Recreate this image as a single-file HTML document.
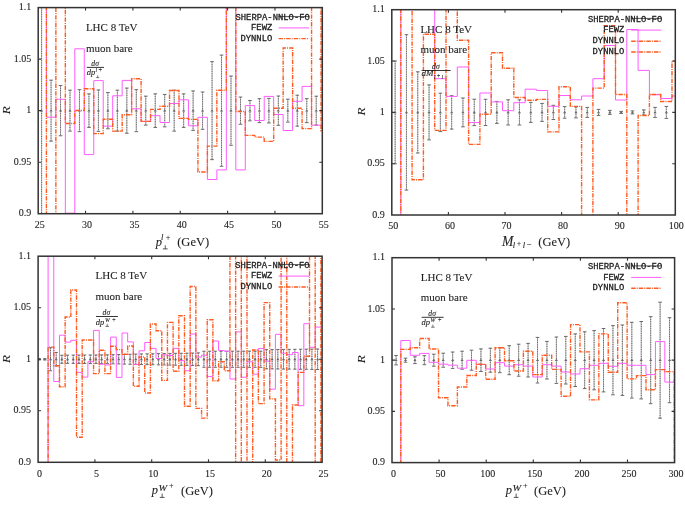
<!DOCTYPE html>
<html><head><meta charset="utf-8"><title>R ratio plots</title>
<style>
html,body{margin:0;padding:0;background:#fff}
body{width:685px;height:506px;overflow:hidden;position:relative}
svg{position:absolute;left:0;top:0;display:block;filter:blur(0.3px);}
.s{font-family:"Liberation Serif",serif;fill:#1e1e1e;stroke:#1e1e1e;stroke-width:0.1px}
.m{font-family:"Liberation Mono",monospace;fill:#1e1e1e;stroke:#1e1e1e;stroke-width:0.3px}
</style></head><body>
<svg width="685" height="506" viewBox="0 0 685 506">
<rect x="0" y="0" width="685" height="506" fill="#fff"/>
<defs>
<clipPath id="ca"><rect x="38.2" y="7.6" width="284.1" height="206.1"/></clipPath>
<clipPath id="cb"><rect x="391.8" y="9.7" width="283.5" height="205.3"/></clipPath>
<clipPath id="cc"><rect x="38.1" y="256.2" width="284" height="206.1"/></clipPath>
<clipPath id="cd"><rect x="392" y="257.7" width="282.6" height="204.9"/></clipPath>
</defs>
<g clip-path="url(#ca)">
<path d="M41.6,2.6V218.7M51.07,80.15V141.15M60.54,85.55V135.75M70.01,90.15V131.15M79.48,89.65V131.65M88.95,93.85V127.45M98.42,89.95V131.35M107.89,92.55V128.75M117.36,90.15V131.15M126.83,88.05V133.25M136.3,89.65V131.65M145.77,96.15V125.15M155.24,93.85V127.45M164.71,94.45V126.85M174.18,90.15V131.15M183.65,93.9V127.4M193.12,90.95V130.35M202.59,92V129.3M212.06,61.65V159.65M221.53,55.05V166.25M231,76.05V145.25M240.47,97.05V124.25M249.94,100.5V120.8M259.41,98.7V122.6M268.88,98.35V122.95M278.35,96V125.3M287.82,99.2V122.1M297.29,95.2V126.1M306.76,98.65V122.65M316.23,96.2V125.1" fill="none" stroke="#a8a8a8" stroke-width="0.9"/>
<path d="M41.6,2.6V218.7M51.07,80.15V141.15M60.54,85.55V135.75M70.01,90.15V131.15M79.48,89.65V131.65M88.95,93.85V127.45M98.42,89.95V131.35M107.89,92.55V128.75M117.36,90.15V131.15M126.83,88.05V133.25M136.3,89.65V131.65M145.77,96.15V125.15M155.24,93.85V127.45M164.71,94.45V126.85M174.18,90.15V131.15M183.65,93.9V127.4M193.12,90.95V130.35M202.59,92V129.3M212.06,61.65V159.65M221.53,55.05V166.25M231,76.05V145.25M240.47,97.05V124.25M249.94,100.5V120.8M259.41,98.7V122.6M268.88,98.35V122.95M278.35,96V125.3M287.82,99.2V122.1M297.29,95.2V126.1M306.76,98.65V122.65M316.23,96.2V125.1" fill="none" stroke="#666" stroke-width="1" stroke-dasharray="1 1.3"/>
<path d="M49.27,80.15h3.6M49.27,141.15h3.6M58.74,85.55h3.6M58.74,135.75h3.6M68.21,90.15h3.6M68.21,131.15h3.6M77.68,89.65h3.6M77.68,131.65h3.6M87.15,93.85h3.6M87.15,127.45h3.6M96.62,89.95h3.6M96.62,131.35h3.6M106.09,92.55h3.6M106.09,128.75h3.6M115.56,90.15h3.6M115.56,131.15h3.6M125.03,88.05h3.6M125.03,133.25h3.6M134.5,89.65h3.6M134.5,131.65h3.6M143.97,96.15h3.6M143.97,125.15h3.6M153.44,93.85h3.6M153.44,127.45h3.6M162.91,94.45h3.6M162.91,126.85h3.6M172.38,90.15h3.6M172.38,131.15h3.6M181.85,93.9h3.6M181.85,127.4h3.6M191.32,90.95h3.6M191.32,130.35h3.6M200.79,92h3.6M200.79,129.3h3.6M210.26,61.65h3.6M210.26,159.65h3.6M219.73,55.05h3.6M219.73,166.25h3.6M229.2,76.05h3.6M229.2,145.25h3.6M238.67,97.05h3.6M238.67,124.25h3.6M248.14,100.5h3.6M248.14,120.8h3.6M257.61,98.7h3.6M257.61,122.6h3.6M267.08,98.35h3.6M267.08,122.95h3.6M276.55,96h3.6M276.55,125.3h3.6M286.02,99.2h3.6M286.02,122.1h3.6M295.49,95.2h3.6M295.49,126.1h3.6M304.96,98.65h3.6M304.96,122.65h3.6M314.43,96.2h3.6M314.43,125.1h3.6" fill="none" stroke="#6a6a6a" stroke-width="1"/>
<path d="M41.6,109.15l1.6,2.4h-3.2zM51.07,109.15l1.6,2.4h-3.2zM60.54,109.15l1.6,2.4h-3.2zM70.01,109.15l1.6,2.4h-3.2zM79.48,109.15l1.6,2.4h-3.2zM88.95,109.15l1.6,2.4h-3.2zM98.42,109.15l1.6,2.4h-3.2zM107.89,109.15l1.6,2.4h-3.2zM117.36,109.15l1.6,2.4h-3.2zM126.83,109.15l1.6,2.4h-3.2zM136.3,109.15l1.6,2.4h-3.2zM145.77,109.15l1.6,2.4h-3.2zM155.24,109.15l1.6,2.4h-3.2zM164.71,109.15l1.6,2.4h-3.2zM174.18,109.15l1.6,2.4h-3.2zM183.65,109.15l1.6,2.4h-3.2zM193.12,109.15l1.6,2.4h-3.2zM202.59,109.15l1.6,2.4h-3.2zM212.06,109.15l1.6,2.4h-3.2zM221.53,109.15l1.6,2.4h-3.2zM231,109.15l1.6,2.4h-3.2zM240.47,109.15l1.6,2.4h-3.2zM249.94,109.15l1.6,2.4h-3.2zM259.41,109.15l1.6,2.4h-3.2zM268.88,109.15l1.6,2.4h-3.2zM278.35,109.15l1.6,2.4h-3.2zM287.82,109.15l1.6,2.4h-3.2zM297.29,109.15l1.6,2.4h-3.2zM306.76,109.15l1.6,2.4h-3.2zM316.23,109.15l1.6,2.4h-3.2z" fill="#6a6a6a"/>
<path d="M36.93,-22.4H46.4V117.2H55.87V99.3H65.34V213.2H74.81V48.8H84.28V154.6H93.75V80.6H103.22V126.2H112.69V95.8H122.16V80.4H131.63V108.8H141.1V121.4H150.57V115.7H160.04V122.5H169.51V103.5H178.98V99.8H188.45V125.8H197.92V117.3H207.39V179.5H216.86V169.9H226.33V-22.4H235.8V169.9H245.27V105.6H254.74V120.5H264.21V96.4H273.68V114.5H283.15V130.5H292.62V101.3H302.09V86.4H311.56V125.2H321.03V125H330.5" fill="none" stroke="#ff5cff" stroke-width="1.0"/>
<path d="M36.93,-22.4H46.4V243.7H55.87V-22.4H65.34V123.5H74.81V110.5H84.28V88.8H93.75V133.6H103.22V119.3H112.69V131.1H122.16V114.7H131.63V78.8H141.1V121.4H150.57V109.4H160.04V106.3H169.51V90.5H178.98V118.4H188.45V119.4H197.92V172H207.39V146.1H216.86V90.2H226.33V-22.4H235.8V111.5H245.27V135.4H254.74V137.1H264.21V141.4H273.68V108.3H283.15V48H292.62V108.3H302.09V128.6H311.56V-22.4H321.03V131H330.5" fill="none" stroke="#ff5a20" stroke-width="1.4" stroke-dasharray="4.4 1.1 1 1.1"/>
</g>
<rect x="38.2" y="7.6" width="284.1" height="206.1" fill="none" stroke="#333" stroke-width="1.5"/>
<path d="M38.2,59.13h3M322.3,59.13h-3M38.2,110.65h3M322.3,110.65h-3M38.2,162.18h3M322.3,162.18h-3M85.55,213.7v-3M85.55,7.6v3M132.9,213.7v-3M132.9,7.6v3M180.25,213.7v-3M180.25,7.6v3M227.6,213.7v-3M227.6,7.6v3M274.95,213.7v-3M274.95,7.6v3" fill="none" stroke="#333" stroke-width="1.1"/>
<g clip-path="url(#cb)">
<path d="M395.15,61V163.8M406.45,34.7V190.1M417.75,71.8V153M429.05,84.9V139.9M440.35,93.2V131.6M451.65,95.7V129.1M462.95,98V126.8M474.25,99.2V125.6M485.55,99.3V125.5M496.85,101.4V123.4M508.15,99.8V125M519.45,99.8V125M530.75,102.4V122.4M542.05,103.4V121.4M553.35,105.3V119.5M564.65,106.6V118.2M575.95,106.9V117.9M587.25,107.4V117.4M598.55,109.4V115.4M609.85,110.4V114.4M632.45,110.9V113.9M643.75,109.9V114.9M655.05,107.4V117.4M666.35,106.4V118.4" fill="none" stroke="#a8a8a8" stroke-width="0.9"/>
<path d="M395.15,61V163.8M406.45,34.7V190.1M417.75,71.8V153M429.05,84.9V139.9M440.35,93.2V131.6M451.65,95.7V129.1M462.95,98V126.8M474.25,99.2V125.6M485.55,99.3V125.5M496.85,101.4V123.4M508.15,99.8V125M519.45,99.8V125M530.75,102.4V122.4M542.05,103.4V121.4M553.35,105.3V119.5M564.65,106.6V118.2M575.95,106.9V117.9M587.25,107.4V117.4M598.55,109.4V115.4M609.85,110.4V114.4M632.45,110.9V113.9M643.75,109.9V114.9M655.05,107.4V117.4M666.35,106.4V118.4" fill="none" stroke="#666" stroke-width="1" stroke-dasharray="1 1.3"/>
<path d="M393.35,61h3.6M393.35,163.8h3.6M404.65,34.7h3.6M404.65,190.1h3.6M415.95,71.8h3.6M415.95,153h3.6M427.25,84.9h3.6M427.25,139.9h3.6M438.55,93.2h3.6M438.55,131.6h3.6M449.85,95.7h3.6M449.85,129.1h3.6M461.15,98h3.6M461.15,126.8h3.6M472.45,99.2h3.6M472.45,125.6h3.6M483.75,99.3h3.6M483.75,125.5h3.6M495.05,101.4h3.6M495.05,123.4h3.6M506.35,99.8h3.6M506.35,125h3.6M517.65,99.8h3.6M517.65,125h3.6M528.95,102.4h3.6M528.95,122.4h3.6M540.25,103.4h3.6M540.25,121.4h3.6M551.55,105.3h3.6M551.55,119.5h3.6M562.85,106.6h3.6M562.85,118.2h3.6M574.15,106.9h3.6M574.15,117.9h3.6M585.45,107.4h3.6M585.45,117.4h3.6M596.75,109.4h3.6M596.75,115.4h3.6M608.05,110.4h3.6M608.05,114.4h3.6M619.35,111.4h3.6M619.35,113.4h3.6M630.65,110.9h3.6M630.65,113.9h3.6M641.95,109.9h3.6M641.95,114.9h3.6M653.25,107.4h3.6M653.25,117.4h3.6M664.55,106.4h3.6M664.55,118.4h3.6" fill="none" stroke="#6a6a6a" stroke-width="1"/>
<path d="M395.15,110.9l1.6,2.4h-3.2zM406.45,110.9l1.6,2.4h-3.2zM417.75,110.9l1.6,2.4h-3.2zM429.05,110.9l1.6,2.4h-3.2zM440.35,110.9l1.6,2.4h-3.2zM451.65,110.9l1.6,2.4h-3.2zM462.95,110.9l1.6,2.4h-3.2zM474.25,110.9l1.6,2.4h-3.2zM485.55,110.9l1.6,2.4h-3.2zM496.85,110.9l1.6,2.4h-3.2zM508.15,110.9l1.6,2.4h-3.2zM519.45,110.9l1.6,2.4h-3.2zM530.75,110.9l1.6,2.4h-3.2zM542.05,110.9l1.6,2.4h-3.2zM553.35,110.9l1.6,2.4h-3.2zM564.65,110.9l1.6,2.4h-3.2zM575.95,110.9l1.6,2.4h-3.2zM587.25,110.9l1.6,2.4h-3.2zM598.55,110.9l1.6,2.4h-3.2zM609.85,110.9l1.6,2.4h-3.2zM621.15,110.9l1.6,2.4h-3.2zM632.45,110.9l1.6,2.4h-3.2zM643.75,110.9l1.6,2.4h-3.2zM655.05,110.9l1.6,2.4h-3.2zM666.35,110.9l1.6,2.4h-3.2z" fill="#6a6a6a"/>
<path d="M389.5,245H400.8V-20.3H412.1V-20.3H423.4V-20.3H434.7V78.7H446V96.4H457.3V67H468.6V122.6H479.9V93H491.2V101.9H502.5V110.7H513.8V102.7H525.1V89.2H536.4V90.5H547.7V106.3H559V95.5H570.3V99.8H581.6V96H592.9V78.7H604.2V45.5H615.5V100H626.8V29.5H638.1V70.4H649.4V94.7H660.7V98.5H672V96H683.3" fill="none" stroke="#ff5cff" stroke-width="1.0"/>
<path d="M389.5,245H400.8V-20.3H412.1V179.8H423.4V34.2H434.7V130.4H446V-20.3H457.3V40.3H468.6V144.4H479.9V114.2H491.2V52.7H502.5V68.3H513.8V97.5H525.1V100.2H536.4V99.4H547.7V131.9H559V86.8H570.3V106.4H581.6V245H592.9V88.1H604.2V25.8H615.5V94.5H626.8V245H638.1V115.5H649.4V94.5H660.7V101.5H672V61.1H683.3" fill="none" stroke="#ff5a20" stroke-width="1.4" stroke-dasharray="4.4 1.1 1 1.1"/>
</g>
<rect x="391.8" y="9.7" width="283.5" height="205.3" fill="none" stroke="#333" stroke-width="1.5"/>
<path d="M391.8,61.03h3M675.3,61.03h-3M391.8,112.35h3M675.3,112.35h-3M391.8,163.68h3M675.3,163.68h-3M448.4,215v-3M448.4,9.7v3M505,215v-3M505,9.7v3M561.6,215v-3M561.6,9.7v3M618.2,215v-3M618.2,9.7v3" fill="none" stroke="#333" stroke-width="1.1"/>
<g clip-path="url(#cc)">
<path d="M50.5,347.75V370.75M56.18,352.45V366.05M61.86,355.25V363.25M67.55,355.15V363.35M73.23,355.11V363.39M78.91,355.06V363.44M84.59,355.02V363.48M90.28,354.98V363.52M95.96,354.94V363.56M101.64,354.89V363.61M107.33,354.85V363.65M113.01,354.7V363.8M118.69,354.55V363.95M124.38,354.4V364.1M130.06,354.25V364.25M135.74,354.1V364.4M141.42,353.95V364.55M147.11,353.85V364.65M152.79,353.75V364.75M158.47,353.65V364.85M164.16,353.55V364.95M169.84,353.45V365.05M175.52,353.35V365.15M181.2,353.25V365.25M186.89,353.15V365.35M192.57,353.05V365.45M198.25,352.85V365.65M203.94,351.25V367.25M209.62,351.24V367.26M215.3,351.23V367.27M220.99,351.22V367.28M226.67,351.21V367.29M232.35,351.2V367.3M238.03,351.19V367.31M243.72,351.18V367.32M249.4,351.17V367.33M255.08,351.16V367.34M260.77,351.15V367.35M266.45,349.65V368.85M272.13,349.58V368.92M277.82,349.51V368.99M283.5,349.44V369.06M289.18,349.37V369.13M294.86,349.3V369.2M300.55,349.23V369.27M306.23,349.16V369.34M311.91,349.09V369.41M317.6,349.02V369.48" fill="none" stroke="#a8a8a8" stroke-width="0.9"/>
<path d="M50.5,347.75V370.75M56.18,352.45V366.05M61.86,355.25V363.25M67.55,355.15V363.35M73.23,355.11V363.39M78.91,355.06V363.44M84.59,355.02V363.48M90.28,354.98V363.52M95.96,354.94V363.56M101.64,354.89V363.61M107.33,354.85V363.65M113.01,354.7V363.8M118.69,354.55V363.95M124.38,354.4V364.1M130.06,354.25V364.25M135.74,354.1V364.4M141.42,353.95V364.55M147.11,353.85V364.65M152.79,353.75V364.75M158.47,353.65V364.85M164.16,353.55V364.95M169.84,353.45V365.05M175.52,353.35V365.15M181.2,353.25V365.25M186.89,353.15V365.35M192.57,353.05V365.45M198.25,352.85V365.65M203.94,351.25V367.25M209.62,351.24V367.26M215.3,351.23V367.27M220.99,351.22V367.28M226.67,351.21V367.29M232.35,351.2V367.3M238.03,351.19V367.31M243.72,351.18V367.32M249.4,351.17V367.33M255.08,351.16V367.34M260.77,351.15V367.35M266.45,349.65V368.85M272.13,349.58V368.92M277.82,349.51V368.99M283.5,349.44V369.06M289.18,349.37V369.13M294.86,349.3V369.2M300.55,349.23V369.27M306.23,349.16V369.34M311.91,349.09V369.41M317.6,349.02V369.48" fill="none" stroke="#666" stroke-width="1" stroke-dasharray="1 1.3"/>
<path d="M37.53,358.65h3.2M37.53,359.85h3.2M43.21,358.65h3.2M43.21,359.85h3.2M48.9,347.75h3.2M48.9,370.75h3.2M54.58,352.45h3.2M54.58,366.05h3.2M60.26,355.25h3.2M60.26,363.25h3.2M65.95,355.15h3.2M65.95,363.35h3.2M71.63,355.11h3.2M71.63,363.39h3.2M77.31,355.06h3.2M77.31,363.44h3.2M82.99,355.02h3.2M82.99,363.48h3.2M88.68,354.98h3.2M88.68,363.52h3.2M94.36,354.94h3.2M94.36,363.56h3.2M100.04,354.89h3.2M100.04,363.61h3.2M105.73,354.85h3.2M105.73,363.65h3.2M111.41,354.7h3.2M111.41,363.8h3.2M117.09,354.55h3.2M117.09,363.95h3.2M122.78,354.4h3.2M122.78,364.1h3.2M128.46,354.25h3.2M128.46,364.25h3.2M134.14,354.1h3.2M134.14,364.4h3.2M139.82,353.95h3.2M139.82,364.55h3.2M145.51,353.85h3.2M145.51,364.65h3.2M151.19,353.75h3.2M151.19,364.75h3.2M156.87,353.65h3.2M156.87,364.85h3.2M162.56,353.55h3.2M162.56,364.95h3.2M168.24,353.45h3.2M168.24,365.05h3.2M173.92,353.35h3.2M173.92,365.15h3.2M179.6,353.25h3.2M179.6,365.25h3.2M185.29,353.15h3.2M185.29,365.35h3.2M190.97,353.05h3.2M190.97,365.45h3.2M196.65,352.85h3.2M196.65,365.65h3.2M202.34,351.25h3.2M202.34,367.25h3.2M208.02,351.24h3.2M208.02,367.26h3.2M213.7,351.23h3.2M213.7,367.27h3.2M219.39,351.22h3.2M219.39,367.28h3.2M225.07,351.21h3.2M225.07,367.29h3.2M230.75,351.2h3.2M230.75,367.3h3.2M236.44,351.19h3.2M236.44,367.31h3.2M242.12,351.18h3.2M242.12,367.32h3.2M247.8,351.17h3.2M247.8,367.33h3.2M253.48,351.16h3.2M253.48,367.34h3.2M259.17,351.15h3.2M259.17,367.35h3.2M264.85,349.65h3.2M264.85,368.85h3.2M270.53,349.58h3.2M270.53,368.92h3.2M276.22,349.51h3.2M276.22,368.99h3.2M281.9,349.44h3.2M281.9,369.06h3.2M287.58,349.37h3.2M287.58,369.13h3.2M293.26,349.3h3.2M293.26,369.2h3.2M298.95,349.23h3.2M298.95,369.27h3.2M304.63,349.16h3.2M304.63,369.34h3.2M310.31,349.09h3.2M310.31,369.41h3.2M316,349.02h3.2M316,369.48h3.2" fill="none" stroke="#6a6a6a" stroke-width="1"/>
<path d="M39.13,357.75l1.6,2.4h-3.2zM44.81,357.75l1.6,2.4h-3.2zM50.5,357.75l1.6,2.4h-3.2zM56.18,357.75l1.6,2.4h-3.2zM61.86,357.75l1.6,2.4h-3.2zM67.55,357.75l1.6,2.4h-3.2zM73.23,357.75l1.6,2.4h-3.2zM78.91,357.75l1.6,2.4h-3.2zM84.59,357.75l1.6,2.4h-3.2zM90.28,357.75l1.6,2.4h-3.2zM95.96,357.75l1.6,2.4h-3.2zM101.64,357.75l1.6,2.4h-3.2zM107.33,357.75l1.6,2.4h-3.2zM113.01,357.75l1.6,2.4h-3.2zM118.69,357.75l1.6,2.4h-3.2zM124.38,357.75l1.6,2.4h-3.2zM130.06,357.75l1.6,2.4h-3.2zM135.74,357.75l1.6,2.4h-3.2zM141.42,357.75l1.6,2.4h-3.2zM147.11,357.75l1.6,2.4h-3.2zM152.79,357.75l1.6,2.4h-3.2zM158.47,357.75l1.6,2.4h-3.2zM164.16,357.75l1.6,2.4h-3.2zM169.84,357.75l1.6,2.4h-3.2zM175.52,357.75l1.6,2.4h-3.2zM181.2,357.75l1.6,2.4h-3.2zM186.89,357.75l1.6,2.4h-3.2zM192.57,357.75l1.6,2.4h-3.2zM198.25,357.75l1.6,2.4h-3.2zM203.94,357.75l1.6,2.4h-3.2zM209.62,357.75l1.6,2.4h-3.2zM215.3,357.75l1.6,2.4h-3.2zM220.99,357.75l1.6,2.4h-3.2zM226.67,357.75l1.6,2.4h-3.2zM232.35,357.75l1.6,2.4h-3.2zM238.03,357.75l1.6,2.4h-3.2zM243.72,357.75l1.6,2.4h-3.2zM249.4,357.75l1.6,2.4h-3.2zM255.08,357.75l1.6,2.4h-3.2zM260.77,357.75l1.6,2.4h-3.2zM266.45,357.75l1.6,2.4h-3.2zM272.13,357.75l1.6,2.4h-3.2zM277.82,357.75l1.6,2.4h-3.2zM283.5,357.75l1.6,2.4h-3.2zM289.18,357.75l1.6,2.4h-3.2zM294.86,357.75l1.6,2.4h-3.2zM300.55,357.75l1.6,2.4h-3.2zM306.23,357.75l1.6,2.4h-3.2zM311.91,357.75l1.6,2.4h-3.2zM317.6,357.75l1.6,2.4h-3.2z" fill="#6a6a6a"/>
<path d="M36.73,492.3H42.41V492.3H48.1V226.2H53.78V381.5H59.46V335.2H65.14V342.1H70.83V340.3H76.51V372.4H82.19V377.1H87.88V361.7H93.56V330.4H99.24V364.2H104.93V365H110.61V337.1H116.29V377.4H121.97V333H127.66V341.9H133.34V364.4H139.02V350.8H144.71V342.5H150.39V348.4H156.07V358.5H161.76V354.9H167.44V355.5H173.12V348.4H178.8V360.6H184.49V370.8H190.17V334H195.85V357H201.54V355.2H207.22V376.6H212.9V341H218.59V350.5H224.27V351.3H229.95V379H235.63V331.9H241.32V377.2H247V361.8H252.68V374.2H258.37V348.5H264.05V361.2H269.73V389.2H275.42V334.3H281.1V353.2H286.78V354.7H292.46V352.5H298.15V405.7H303.83V323.7H309.51V347.3H315.2V327.1H320.88V327H326.56" fill="none" stroke="#ff5cff" stroke-width="1.0"/>
<path d="M36.73,492.3H42.41V492.3H48.1V347.1H53.78V365.8H59.46V386.8H65.14V317H70.83V290H76.51V437.3H82.19V340H87.88V340H93.56V373.6H99.24V350.2H104.93V373.6H110.61V346.2H116.29V349.6H121.97V354.3H127.66V346H133.34V386.3H139.02V357H144.71V393H150.39V324H156.07V330.8H161.76V380.4H167.44V322.4H173.12V371.3H178.8V315.7H184.49V406.3H190.17V286.5H195.85V408.4H201.54V418.1H207.22V319.8H212.9V380.8H218.59V361.8H224.27V370.7H229.95V226.2H235.63V492.3H241.32V226.2H247V492.3H252.68V350H258.37V403.6H264.05V302.6H269.73V398.9H275.42V460H281.1V226.2H286.78V492.3H292.46V405H298.15V372.4H303.83V356.2H309.51V226.2H315.2V492.3H320.88V226.2H326.56" fill="none" stroke="#ff5a20" stroke-width="1.4" stroke-dasharray="4.4 1.1 1 1.1"/>
</g>
<rect x="38.1" y="256.2" width="284" height="206.1" fill="none" stroke="#333" stroke-width="1.5"/>
<path d="M38.1,307.73h3M322.1,307.73h-3M38.1,359.25h3M322.1,359.25h-3M38.1,410.78h3M322.1,410.78h-3M94.9,462.3v-3M94.9,256.2v3M151.7,462.3v-3M151.7,256.2v3M208.5,462.3v-3M208.5,256.2v3M265.3,462.3v-3M265.3,256.2v3" fill="none" stroke="#333" stroke-width="1.1"/>
<g clip-path="url(#cd)">
<path d="M396.07,355.5V364.9M405.5,358.2V362.2M414.93,356.8V363.6M424.36,355.7V364.7M433.79,354.2V366.2M443.22,353.2V367.2M452.65,352V368.4M462.08,351.2V369.2M471.51,350.2V370.2M480.94,348.9V371.5M490.37,348.2V372.2M499.8,347.7V372.7M509.23,345.7V374.7M518.66,344.2V376.2M528.09,343.4V377M537.52,337.4V383M546.95,341.4V379M556.38,337V383.4M565.81,336.4V384M575.24,333.9V386.5M584.67,331.8V388.6M594.1,330.6V389.8M603.53,328.5V391.9M612.96,325.6V394.8M622.39,325V395.4M631.82,322.3V398.1M641.25,321.5V398.9M650.68,316.7V403.7M660.11,302.2V418.2M669.54,317.7V402.7" fill="none" stroke="#a8a8a8" stroke-width="0.9"/>
<path d="M396.07,355.5V364.9M405.5,358.2V362.2M414.93,356.8V363.6M424.36,355.7V364.7M433.79,354.2V366.2M443.22,353.2V367.2M452.65,352V368.4M462.08,351.2V369.2M471.51,350.2V370.2M480.94,348.9V371.5M490.37,348.2V372.2M499.8,347.7V372.7M509.23,345.7V374.7M518.66,344.2V376.2M528.09,343.4V377M537.52,337.4V383M546.95,341.4V379M556.38,337V383.4M565.81,336.4V384M575.24,333.9V386.5M584.67,331.8V388.6M594.1,330.6V389.8M603.53,328.5V391.9M612.96,325.6V394.8M622.39,325V395.4M631.82,322.3V398.1M641.25,321.5V398.9M650.68,316.7V403.7M660.11,302.2V418.2M669.54,317.7V402.7" fill="none" stroke="#666" stroke-width="1" stroke-dasharray="1 1.3"/>
<path d="M394.27,355.5h3.6M394.27,364.9h3.6M403.7,358.2h3.6M403.7,362.2h3.6M413.13,356.8h3.6M413.13,363.6h3.6M422.56,355.7h3.6M422.56,364.7h3.6M431.99,354.2h3.6M431.99,366.2h3.6M441.42,353.2h3.6M441.42,367.2h3.6M450.85,352h3.6M450.85,368.4h3.6M460.28,351.2h3.6M460.28,369.2h3.6M469.71,350.2h3.6M469.71,370.2h3.6M479.14,348.9h3.6M479.14,371.5h3.6M488.57,348.2h3.6M488.57,372.2h3.6M498,347.7h3.6M498,372.7h3.6M507.43,345.7h3.6M507.43,374.7h3.6M516.86,344.2h3.6M516.86,376.2h3.6M526.29,343.4h3.6M526.29,377h3.6M535.72,337.4h3.6M535.72,383h3.6M545.15,341.4h3.6M545.15,379h3.6M554.58,337h3.6M554.58,383.4h3.6M564.01,336.4h3.6M564.01,384h3.6M573.44,333.9h3.6M573.44,386.5h3.6M582.87,331.8h3.6M582.87,388.6h3.6M592.3,330.6h3.6M592.3,389.8h3.6M601.73,328.5h3.6M601.73,391.9h3.6M611.16,325.6h3.6M611.16,394.8h3.6M620.59,325h3.6M620.59,395.4h3.6M630.02,322.3h3.6M630.02,398.1h3.6M639.45,321.5h3.6M639.45,398.9h3.6M648.88,316.7h3.6M648.88,403.7h3.6M658.31,302.2h3.6M658.31,418.2h3.6M667.74,317.7h3.6M667.74,402.7h3.6" fill="none" stroke="#6a6a6a" stroke-width="1"/>
<path d="M396.07,358.7l1.6,2.4h-3.2zM405.5,358.7l1.6,2.4h-3.2zM414.93,358.7l1.6,2.4h-3.2zM424.36,358.7l1.6,2.4h-3.2zM433.79,358.7l1.6,2.4h-3.2zM443.22,358.7l1.6,2.4h-3.2zM452.65,358.7l1.6,2.4h-3.2zM462.08,358.7l1.6,2.4h-3.2zM471.51,358.7l1.6,2.4h-3.2zM480.94,358.7l1.6,2.4h-3.2zM490.37,358.7l1.6,2.4h-3.2zM499.8,358.7l1.6,2.4h-3.2zM509.23,358.7l1.6,2.4h-3.2zM518.66,358.7l1.6,2.4h-3.2zM528.09,358.7l1.6,2.4h-3.2zM537.52,358.7l1.6,2.4h-3.2zM546.95,358.7l1.6,2.4h-3.2zM556.38,358.7l1.6,2.4h-3.2zM565.81,358.7l1.6,2.4h-3.2zM575.24,358.7l1.6,2.4h-3.2zM584.67,358.7l1.6,2.4h-3.2zM594.1,358.7l1.6,2.4h-3.2zM603.53,358.7l1.6,2.4h-3.2zM612.96,358.7l1.6,2.4h-3.2zM622.39,358.7l1.6,2.4h-3.2zM631.82,358.7l1.6,2.4h-3.2zM641.25,358.7l1.6,2.4h-3.2zM650.68,358.7l1.6,2.4h-3.2zM660.11,358.7l1.6,2.4h-3.2zM669.54,358.7l1.6,2.4h-3.2z" fill="#6a6a6a"/>
<path d="M391.37,492.6H400.8V340.5H410.23V355.3H419.66V353.4H429.09V362.3H438.52V364.2H447.95V365.2H457.38V368.2H466.81V360.3H476.24V364.5H485.67V369H495.1V362.7H504.53V366.1H513.96V364.7H523.39V366.1H532.82V377H542.25V364.7H551.68V366.1H561.11V372H570.54V374H579.97V368.7H589.4V365.3H598.83V363.3H608.26V366.3H617.69V363.3H627.12V365.3H636.55V365.3H645.98V374.6H655.41V341.6H664.84V382.1H674.27V382H683.7" fill="none" stroke="#ff5cff" stroke-width="1.0"/>
<path d="M391.37,492.6H400.8V349.4H410.23V347.8H419.66V338.5H429.09V349H438.52V397.8H447.95V405.7H457.38V387H466.81V375.5H476.24V364.2H485.67V379.3H495.1V347.7H504.53V360.8H513.96V371H523.39V351.3H532.82V374.6H542.25V355.2H551.68V369.4H561.11V396.3H570.54V324.6H579.97V351.9H589.4V399.9H598.83V333.9H608.26V372.2H617.69V302.8H627.12V378.9H636.55V375.6H645.98V389.8H655.41V369.6H664.84V371.6H674.27V492.6H683.7" fill="none" stroke="#ff5a20" stroke-width="1.4" stroke-dasharray="4.4 1.1 1 1.1"/>
</g>
<rect x="392" y="257.7" width="282.6" height="204.9" fill="none" stroke="#333" stroke-width="1.5"/>
<path d="M392,308.93h3M674.6,308.93h-3M392,360.15h3M674.6,360.15h-3M392,411.38h3M674.6,411.38h-3M439.1,462.6v-3M439.1,257.7v3M486.2,462.6v-3M486.2,257.7v3M533.3,462.6v-3M533.3,257.7v3M580.4,462.6v-3M580.4,257.7v3M627.5,462.6v-3M627.5,257.7v3" fill="none" stroke="#333" stroke-width="1.1"/>
<path d="M278.6,16.6H309.2" stroke="#555" stroke-width="1"/>
<path d="M278.6,27.9H309.2" stroke="#ff5cff" stroke-width="1.0"/>
<path d="M278.6,38.6H309.2" stroke="#ff5a20" stroke-width="1.4" stroke-dasharray="4.4 1.1 1 1.1"/>
<path d="M631.2,18.4H661.3" stroke="#555" stroke-width="1"/>
<path d="M631.2,30.1H661.3" stroke="#ff5cff" stroke-width="1.0"/>
<path d="M631.2,41.2H661.3" stroke="#ff5a20" stroke-width="1.4" stroke-dasharray="4.4 1.1 1 1.1"/>
<path d="M631.2,52H661.3" stroke="#ff5a20" stroke-width="1.4" stroke-dasharray="4.4 1.1 1 1.1"/>
<path d="M278.6,264.6H309" stroke="#555" stroke-width="1"/>
<path d="M278.6,276.1H309" stroke="#ff5cff" stroke-width="1.0"/>
<path d="M278.6,287H309" stroke="#ff5a20" stroke-width="1.4" stroke-dasharray="4.4 1.1 1 1.1"/>
<path d="M631.2,265.9H661.3" stroke="#555" stroke-width="1"/>
<path d="M631.2,277.4H661.3" stroke="#ff5cff" stroke-width="1.0"/>
<path d="M631.2,288.3H661.3" stroke="#ff5a20" stroke-width="1.4" stroke-dasharray="4.4 1.1 1 1.1"/>
<g opacity="0.999">
<text class="s" x="31.2" y="10.2" font-size="10" text-anchor="end">1.1</text>
<text class="s" x="31.2" y="61.73" font-size="10" text-anchor="end">1.05</text>
<text class="s" x="31.2" y="113.25" font-size="10" text-anchor="end">1</text>
<text class="s" x="31.2" y="164.78" font-size="10" text-anchor="end">0.95</text>
<text class="s" x="31.2" y="216.3" font-size="10" text-anchor="end">0.9</text>
<text class="s" x="39.7" y="228" font-size="10" text-anchor="middle">25</text>
<text class="s" x="87.05" y="228" font-size="10" text-anchor="middle">30</text>
<text class="s" x="134.4" y="228" font-size="10" text-anchor="middle">35</text>
<text class="s" x="181.75" y="228" font-size="10" text-anchor="middle">40</text>
<text class="s" x="229.1" y="228" font-size="10" text-anchor="middle">45</text>
<text class="s" x="276.45" y="228" font-size="10" text-anchor="middle">50</text>
<text class="s" x="323.8" y="228" font-size="10" text-anchor="middle">55</text>
<text class="s" font-style="italic" font-size="13" text-anchor="middle" transform="translate(9.8,110.3) rotate(-90) scale(1,0.86)">R</text>
<text class="s" x="384.8" y="12.3" font-size="10" text-anchor="end">1.1</text>
<text class="s" x="384.8" y="63.63" font-size="10" text-anchor="end">1.05</text>
<text class="s" x="384.8" y="114.95" font-size="10" text-anchor="end">1</text>
<text class="s" x="384.8" y="166.28" font-size="10" text-anchor="end">0.95</text>
<text class="s" x="384.8" y="217.6" font-size="10" text-anchor="end">0.9</text>
<text class="s" x="393.3" y="229.3" font-size="10" text-anchor="middle">50</text>
<text class="s" x="449.9" y="229.3" font-size="10" text-anchor="middle">60</text>
<text class="s" x="506.5" y="229.3" font-size="10" text-anchor="middle">70</text>
<text class="s" x="563.1" y="229.3" font-size="10" text-anchor="middle">80</text>
<text class="s" x="619.7" y="229.3" font-size="10" text-anchor="middle">90</text>
<text class="s" x="676.3" y="229.3" font-size="10" text-anchor="middle">100</text>
<text class="s" font-style="italic" font-size="13" text-anchor="middle" transform="translate(364.8,111.5) rotate(-90) scale(1,0.86)">R</text>
<text class="s" x="31.1" y="258.8" font-size="10" text-anchor="end">1.1</text>
<text class="s" x="31.1" y="310.33" font-size="10" text-anchor="end">1.05</text>
<text class="s" x="31.1" y="361.85" font-size="10" text-anchor="end">1</text>
<text class="s" x="31.1" y="413.38" font-size="10" text-anchor="end">0.95</text>
<text class="s" x="31.1" y="464.9" font-size="10" text-anchor="end">0.9</text>
<text class="s" x="39.6" y="476.6" font-size="10" text-anchor="middle">0</text>
<text class="s" x="96.4" y="476.6" font-size="10" text-anchor="middle">5</text>
<text class="s" x="153.2" y="476.6" font-size="10" text-anchor="middle">10</text>
<text class="s" x="210" y="476.6" font-size="10" text-anchor="middle">15</text>
<text class="s" x="266.8" y="476.6" font-size="10" text-anchor="middle">20</text>
<text class="s" x="323.6" y="476.6" font-size="10" text-anchor="middle">25</text>
<text class="s" font-style="italic" font-size="13" text-anchor="middle" transform="translate(9.8,359.1) rotate(-90) scale(1,0.86)">R</text>
<text class="s" x="385" y="260.3" font-size="10" text-anchor="end">1.1</text>
<text class="s" x="385" y="311.53" font-size="10" text-anchor="end">1.05</text>
<text class="s" x="385" y="362.75" font-size="10" text-anchor="end">1</text>
<text class="s" x="385" y="413.98" font-size="10" text-anchor="end">0.95</text>
<text class="s" x="385" y="465.2" font-size="10" text-anchor="end">0.9</text>
<text class="s" x="393.5" y="476.9" font-size="10" text-anchor="middle">0</text>
<text class="s" x="440.6" y="476.9" font-size="10" text-anchor="middle">50</text>
<text class="s" x="487.7" y="476.9" font-size="10" text-anchor="middle">100</text>
<text class="s" x="534.8" y="476.9" font-size="10" text-anchor="middle">150</text>
<text class="s" x="581.9" y="476.9" font-size="10" text-anchor="middle">200</text>
<text class="s" x="629" y="476.9" font-size="10" text-anchor="middle">250</text>
<text class="s" x="676.1" y="476.9" font-size="10" text-anchor="middle">300</text>
<text class="s" font-style="italic" font-size="13" text-anchor="middle" transform="translate(364.5,359.3) rotate(-90) scale(1,0.86)">R</text>
<text class="s" x="85.9" y="31.1" font-size="11">LHC 8 TeV</text>
<text class="s" x="85.9" y="51.6" font-size="11">muon bare</text>
<text class="s" x="420.4" y="32.7" font-size="11">LHC 8 TeV</text>
<text class="s" x="420.4" y="53.2" font-size="11">muon bare</text>
<text class="s" x="95.5" y="279.4" font-size="11">LHC 8 TeV</text>
<text class="s" x="95.5" y="300.2" font-size="11">muon bare</text>
<text class="s" x="420.8" y="281" font-size="11">LHC 8 TeV</text>
<text class="s" x="420.8" y="301.4" font-size="11">muon bare</text>
<path d="M86.8,67.4h17.2" stroke="#1e1e1e" stroke-width="0.9"/>
<text class="s" x="91.2" y="65.8" font-size="7.6" font-style="italic">d</text>
<text class="s" x="95.2" y="65.8" font-size="7.6" font-style="italic">&#963;</text>
<text class="s" x="86.7" y="74.8" font-size="8.5" font-style="italic">dp</text>
<text class="s" x="95.6" y="72.3" font-size="5.5" font-style="italic">l</text>
<text class="s" x="98.6" y="72.2" font-size="6.2">+</text>
<path d="M96.2,77.6h2.9M97.65,77.6v-2.2" stroke="#1e1e1e" stroke-width="0.6" fill="none"/>
<path d="M421.6,70.5h29" stroke="#1e1e1e" stroke-width="0.9"/>
<text class="s" x="431.9" y="68.6" font-size="7.6" font-style="italic">d</text>
<text class="s" x="435.9" y="68.6" font-size="7.6" font-style="italic">&#963;</text>
<text class="s" x="421.4" y="76.3" font-size="9" font-style="italic">dM</text>
<text class="s" x="434" y="78.6" font-size="5.5" font-style="italic">l</text>
<text class="s" x="436.9" y="78.4" font-size="5.8">+</text>
<text class="s" x="441.5" y="78.6" font-size="5.5" font-style="italic">l</text>
<text class="s" x="444.6" y="78.4" font-size="5.8">&#8722;</text>
<path d="M96,316.5h21.9" stroke="#1e1e1e" stroke-width="0.9"/>
<text class="s" x="102.5" y="314.8" font-size="7.6" font-style="italic">d</text>
<text class="s" x="106.5" y="314.8" font-size="7.6" font-style="italic">&#963;</text>
<text class="s" x="95.8" y="324.5" font-size="8.5" font-style="italic">dp</text>
<text class="s" x="104.9" y="321.6" font-size="5.8" font-style="italic">W</text>
<text class="s" x="112.2" y="321.5" font-size="6">+</text>
<path d="M105.4,326.4h3.6M107.2,326.4v-2.6" stroke="#1e1e1e" stroke-width="0.6" fill="none"/>
<path d="M421.7,317.3h21.9" stroke="#1e1e1e" stroke-width="0.9"/>
<text class="s" x="428.2" y="315.6" font-size="7.6" font-style="italic">d</text>
<text class="s" x="432.2" y="315.6" font-size="7.6" font-style="italic">&#963;</text>
<text class="s" x="421.5" y="325.3" font-size="8.5" font-style="italic">dp</text>
<text class="s" x="430.6" y="322.4" font-size="5.8" font-style="italic">W</text>
<text class="s" x="437.9" y="322.3" font-size="6">+</text>
<path d="M431.1,327.2h3.6M432.9,327.2v-2.6" stroke="#1e1e1e" stroke-width="0.6" fill="none"/>
<text class="m" x="235.5" y="19.8" font-size="8.85">SHERPA-NNLO-FO</text>
<text class="m" x="272.3" y="30.2" font-size="8.85" text-anchor="end">FEWZ</text>
<text class="m" x="272.3" y="40.6" font-size="8.85" text-anchor="end">DYNNLO</text>
<text class="m" x="587.9" y="21.6" font-size="8.85">SHERPA-NNLO-FO</text>
<text class="m" x="624.4" y="32.4" font-size="8.85" text-anchor="end">FEWZ</text>
<text class="m" x="624.4" y="43.2" font-size="8.85" text-anchor="end">DYNNLO</text>
<text class="m" x="624.4" y="54" font-size="8.85" text-anchor="end">DYNNLO</text>
<text class="m" x="235.3" y="267.8" font-size="8.85">SHERPA-NNLO-FO</text>
<text class="m" x="272.3" y="278.4" font-size="8.85" text-anchor="end">FEWZ</text>
<text class="m" x="272.3" y="289" font-size="8.85" text-anchor="end">DYNNLO</text>
<text class="m" x="587.9" y="269.1" font-size="8.85">SHERPA-NNLO-FO</text>
<text class="m" x="624.4" y="279.7" font-size="8.85" text-anchor="end">FEWZ</text>
<text class="m" x="624.4" y="290.3" font-size="8.85" text-anchor="end">DYNNLO</text>
<text class="s" x="155.7" y="246.2" font-size="12.5" font-style="italic">p</text>
<text class="s" x="160.9" y="240.3" font-size="8.5" font-style="italic">l</text>
<text class="s" x="165.8" y="239.6" font-size="8.2">+</text>
<path d="M162.8,248.9h4.9M165.25,248.9v-3.6" stroke="#1e1e1e" stroke-width="0.75" fill="none"/>
<text class="s" x="177.2" y="246.4" font-size="12.5">(GeV)</text>
<text class="s" x="502.1" y="245.8" font-size="13.6" font-style="italic">M</text>
<text class="s" x="512.8" y="247.5" font-size="8.5" font-style="italic">l</text>
<text class="s" x="516.9" y="246.3" font-size="7.2">+</text>
<text class="s" x="522.7" y="247.5" font-size="8.5" font-style="italic">l</text>
<text class="s" x="527" y="246.5" font-size="8.4">&#8722;</text>
<text class="s" x="538.3" y="246.4" font-size="12.5">(GeV)</text>
<text class="s" x="151.8" y="494.3" font-size="12.5" font-style="italic">p</text>
<text class="s" font-size="8" font-style="italic" transform="translate(158.4,490.8) scale(1.3,1)">W</text>
<text class="s" x="169" y="488.4" font-size="8">+</text>
<path d="M159.8,497.4h4.7M162.15,497.4v-3.8" stroke="#1e1e1e" stroke-width="0.75" fill="none"/>
<text class="s" x="181" y="494.9" font-size="12.5">(GeV)</text>
<text class="s" x="505.8" y="494.3" font-size="12.5" font-style="italic">p</text>
<text class="s" font-size="8" font-style="italic" transform="translate(512.4,490.8) scale(1.3,1)">W</text>
<text class="s" x="523" y="488.4" font-size="8">+</text>
<path d="M513.8,497.4h4.7M516.15,497.4v-3.8" stroke="#1e1e1e" stroke-width="0.75" fill="none"/>
<text class="s" x="534" y="494.9" font-size="12.5">(GeV)</text>
</g>
</svg></body></html>
